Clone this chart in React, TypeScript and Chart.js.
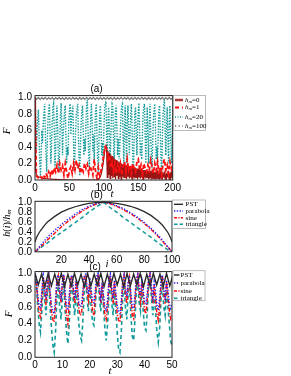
import React, { useEffect, useRef } from "react";
import { Chart, registerables } from "chart.js";
Chart.register(...registerables);

const SERIF = '"Liberation Serif", "Times New Roman", serif';
const SANS = '"Liberation Sans", Arial, sans-serif';

// ---------------- Panel (a): F vs t ----------------
const A_X_TICKS = { min: 0, max: 200, step: 50 };
// h_m = 0 : head (explicit times) + dense tail (t = 104..200, step 1)
const A_H0_HEAD_T = [0, 0.5, 1, 2, 3, 5, 8, 12, 18, 25, 35, 50, 70, 88, 92, 95, 97, 99, 101, 102, 103];
const A_H0_HEAD_F = [1.0, 0.4, 0.12, 0.07, 0.05, 0.04, 0.03, 0.02, 0.015, 0.01, 0.005, 0, 0, 0, 0.01, 0.04, 0.1, 0.2, 0.33, 0.4, 0.43];
const A_H0_TAIL_START = 104;
const A_H0_TAIL_F = [
  0.38, 0.03, 0.35, 0.06, 0.33, 0.02, 0.31, 0.05, 0.29, 0.02,
  0.27, 0.04, 0.25, 0.01, 0.24, 0.05, 0.23, 0.02, 0.22, 0.04,
  0.21, 0.01, 0.2, 0.04, 0.19, 0.02, 0.19, 0.03, 0.18, 0.01,
  0.18, 0.04, 0.17, 0.02, 0.17, 0.03, 0.16, 0.01, 0.16, 0.03,
  0.15, 0.02, 0.15, 0.03, 0.14, 0.01, 0.14, 0.03, 0.14, 0.02,
  0.13, 0.03, 0.13, 0.01, 0.12, 0.03, 0.12, 0.02, 0.12, 0.03,
  0.11, 0.01, 0.11, 0.02, 0.11, 0.03, 0.1, 0.01, 0.1, 0.02,
  0.1, 0.03, 0.09, 0.01, 0.09, 0.02, 0.09, 0.03, 0.09, 0.01,
  0.08, 0.02, 0.08, 0.03, 0.08, 0.01, 0.08, 0.02, 0.08, 0.03,
  0.08, 0.01, 0.09, 0.02, 0.1, 0.03, 0.12,
];
// h_m = 1 : t = 0..200 step 2
const A_H1_STEP = 2;
const A_H1_F = [
  1.0, 0.05, 0.03, 0.02, 0.04, 0.02, 0.06, 0.03, 0.08, 0.04,
  0.1, 0.05, 0.12, 0.06, 0.15, 0.1, 0.18, 0.08, 0.2, 0.12,
  0.17, 0.06, 0.2, 0.1, 0.02, 0.12, 0.16, 0.08, 0.2, 0.12,
  0.24, 0.14, 0.18, 0.08, 0.15, 0.1, 0.2, 0.14, 0.19, 0.08,
  0.17, 0.12, 0.06, 0.25, 0.1, 0.02, 0.15, 0.05, 0.12, 0.2,
  0.32, 0.4, 0.38, 0.25, 0.3, 0.15, 0.22, 0.1, 0.2, 0.08,
  0.18, 0.12, 0.2, 0.06, 0.16, 0.22, 0.1, 0.25, 0.12, 0.18,
  0.08, 0.2, 0.14, 0.1, 0.22, 0.25, 0.12, 0.18, 0.06, 0.2,
  0.14, 0.1, 0.18, 0.12, 0.24, 0.16, 0.08, 0.2, 0.12, 0.22,
  0.1, 0.16, 0.06, 0.2, 0.25, 0.12, 0.18, 0.08, 0.22, 0.14,
  0.2,
];
// h_m = 20 : t = 0..200 step 1
const A_H20_STEP = 1;
const A_H20_F = [
  1.0, 0.7, 0.35, 0.55, 0.75, 0.85, 0.5, 0.2, 0.05, 0.3,
  0.6, 0.45, 0.7, 0.8, 0.92, 0.6, 0.3, 0.1, 0.5, 0.75,
  0.85, 0.92, 0.55, 0.2, 0.4, 0.7, 0.88, 0.92, 0.6, 0.15,
  0.35, 0.75, 0.9, 0.6, 0.25, 0.1, 0.45, 0.8, 0.93, 0.65,
  0.3, 0.55, 0.7, 0.85, 0.9, 0.5, 0.2, 0.4, 0.3, 0.7,
  0.85, 0.92, 0.55, 0.75, 0.85, 0.9, 0.45, 0.1, 0.3, 0.6,
  0.8, 0.85, 0.92, 0.55, 0.25, 0.05, 0.4, 0.7, 0.82, 0.9,
  0.6, 0.3, 0.5, 0.35, 0.7, 0.9, 0.97, 0.6, 0.3, 0.15,
  0.45, 0.8, 0.92, 0.7, 0.35, 0.55, 0.2, 0.6, 0.85, 0.92,
  0.55, 0.25, 0.1, 0.5, 0.8, 0.9, 0.6, 0.3, 0.45, 0.2,
  0.6, 0.85, 0.92, 0.95, 0.55, 0.2, 0.7, 0.88, 0.6, 0.25,
  0.45, 0.8, 0.92, 0.9, 0.5, 0.15, 0.6, 0.85, 0.9, 0.6,
  0.3, 0.5, 0.25, 0.35, 0.6, 0.8, 0.9, 0.92, 0.5, 0.2,
  0.65, 0.9, 0.55, 0.2, 0.7, 0.9, 0.6, 0.3, 0.55, 0.8,
  0.92, 0.6, 0.25, 0.1, 0.5, 0.8, 0.88, 0.55, 0.3, 0.6,
  0.85, 0.93, 0.6, 0.3, 0.45, 0.25, 0.55, 0.8, 0.88, 0.92,
  0.55, 0.2, 0.6, 0.88, 0.5, 0.2, 0.7, 0.92, 0.6, 0.3,
  0.15, 0.45, 0.75, 0.85, 0.92, 0.6, 0.25, 0.4, 0.2, 0.6,
  0.85, 0.9, 0.55, 0.25, 0.1, 0.5, 0.8, 0.9, 0.97, 0.6,
  0.3, 0.6, 0.88, 0.5, 0.2, 0.7, 0.9, 0.55, 0.2, 0.4,
  0.85,
];
// h_m = 100 : t = 0..200 step 2.5
const A_H100_STEP = 2.5;
const A_H100_F = [
  1.0, 0.975, 0.998, 0.972, 0.997, 0.976, 0.999, 0.973, 0.996, 0.975,
  0.998, 0.971, 0.997, 0.976, 0.999, 0.974, 0.996, 0.972, 0.998, 0.975,
  0.997, 0.973, 0.999, 0.976, 0.996, 0.972, 0.998, 0.974, 0.997, 0.975,
  0.999, 0.973, 0.996, 0.976, 0.998, 0.972, 0.997, 0.974, 0.999, 0.975,
  0.996, 0.973, 0.998, 0.976, 0.997, 0.972, 0.999, 0.974, 0.996, 0.975,
  0.998, 0.973, 0.997, 0.976, 0.999, 0.972, 0.996, 0.974, 0.998, 0.975,
  0.997, 0.973, 0.999, 0.976, 0.996, 0.972, 0.998, 0.974, 0.997, 0.975,
  0.999, 0.973, 0.996, 0.976, 0.998, 0.972, 0.997, 0.974, 0.999, 0.975,
  0.996,
];

// ---------------- Panel (b): h(i)/h_m vs i ----------------
const B_I = [1, 2, 3, 5, 8, 10, 15, 20, 25, 30, 35, 40, 45, 50, 51, 55, 60, 65, 70, 75, 80, 85, 90, 93, 95, 97, 98, 99, 100];
const B_PST = [0.2, 0.28, 0.34, 0.43, 0.54, 0.6, 0.71, 0.8, 0.86, 0.91, 0.95, 0.98, 0.995, 1.0, 1.0, 0.995, 0.98, 0.955, 0.92, 0.87, 0.81, 0.73, 0.62, 0.54, 0.47, 0.39, 0.34, 0.28, 0.2];
const B_PARABOLA = [0, 0.03, 0.06, 0.13, 0.23, 0.29, 0.43, 0.55, 0.66, 0.76, 0.85, 0.92, 0.97, 1.0, 1.0, 0.98, 0.93, 0.87, 0.79, 0.7, 0.59, 0.47, 0.33, 0.24, 0.17, 0.1, 0.07, 0.035, 0];
const B_SINE = [0, 0.025, 0.05, 0.1, 0.18, 0.24, 0.37, 0.5, 0.62, 0.72, 0.82, 0.9, 0.96, 1.0, 1.0, 0.975, 0.92, 0.85, 0.77, 0.68, 0.57, 0.45, 0.31, 0.22, 0.15, 0.09, 0.06, 0.03, 0];
const B_TRIANGLE = [0, 0.02, 0.04, 0.08, 0.14, 0.18, 0.29, 0.39, 0.49, 0.59, 0.69, 0.8, 0.9, 0.99, 0.99, 0.9, 0.8, 0.69, 0.59, 0.49, 0.39, 0.29, 0.18, 0.12, 0.08, 0.04, 0.02, 0.01, 0];

// ---------------- Panel (c): F vs t ----------------
const C_PST_STEP = 1.2;
const C_PST = [
  1.0, 0.86, 0.99, 0.84, 1.0, 0.85, 0.99, 0.86, 1.0, 0.84,
  0.99, 0.85, 1.0, 0.86, 0.99, 0.84, 1.0, 0.85, 0.99, 0.86,
  1.0, 0.84, 0.99, 0.85, 1.0, 0.86, 0.99, 0.84, 1.0, 0.85,
  0.99, 0.86, 1.0, 0.84, 0.99, 0.85, 1.0, 0.86, 0.99, 0.84,
  1.0, 0.85, 0.99,
];
const C_STEP = 0.5;
const C_PARABOLA = [
  1.0, 0.9, 0.75, 0.62, 0.58, 0.8, 0.98, 0.85, 0.7, 0.9,
  0.99, 0.8, 0.62, 0.55, 0.52, 0.7, 0.95, 0.98, 0.8, 0.72,
  0.9, 0.99, 0.78, 0.6, 0.56, 0.75, 0.95, 0.98, 0.82, 0.7,
  0.92, 0.85, 0.65, 0.6, 0.62, 0.8, 0.97, 0.99, 0.85, 0.75,
  0.95, 0.82, 0.68, 0.65, 0.8, 0.96, 1.0, 0.85, 0.72, 0.9,
  0.75, 0.6, 0.55, 0.7, 0.92, 0.99, 0.83, 0.7, 0.92, 0.78,
  0.62, 0.54, 0.52, 0.68, 0.9, 0.98, 0.82, 0.72, 0.9, 0.97,
  0.76, 0.6, 0.58, 0.75, 0.95, 0.99, 0.84, 0.73, 0.92, 0.8,
  0.66, 0.64, 0.78, 0.95, 1.0, 0.86, 0.72, 0.9, 0.78, 0.62,
  0.56, 0.7, 0.92, 0.98, 0.82, 0.72, 0.92, 0.8, 0.65, 0.58,
  0.62,
];
const C_SINE = [
  1.0, 0.88, 0.7, 0.52, 0.48, 0.72, 0.95, 0.82, 0.62, 0.85,
  0.97, 0.75, 0.55, 0.45, 0.42, 0.62, 0.9, 0.97, 0.78, 0.65,
  0.88, 0.98, 0.72, 0.5, 0.4, 0.65, 0.92, 0.97, 0.78, 0.64,
  0.9, 0.8, 0.58, 0.5, 0.52, 0.75, 0.95, 0.98, 0.8, 0.68,
  0.9, 0.75, 0.55, 0.5, 0.72, 0.93, 0.99, 0.8, 0.65, 0.88,
  0.7, 0.5, 0.45, 0.62, 0.88, 0.98, 0.78, 0.64, 0.9, 0.72,
  0.52, 0.44, 0.42, 0.6, 0.88, 0.97, 0.76, 0.64, 0.87, 0.95,
  0.7, 0.5, 0.46, 0.66, 0.92, 0.98, 0.78, 0.66, 0.9, 0.74,
  0.56, 0.52, 0.7, 0.92, 0.99, 0.8, 0.64, 0.86, 0.7, 0.52,
  0.44, 0.6, 0.88, 0.97, 0.76, 0.64, 0.9, 0.74, 0.56, 0.46,
  0.5,
];
const C_TRIANGLE = [
  1.0, 0.85, 0.6, 0.4, 0.3, 0.55, 0.85, 0.7, 0.5, 0.75,
  0.9, 0.6, 0.35, 0.15, 0.06, 0.3, 0.7, 0.85, 0.6, 0.45,
  0.7, 0.9, 0.55, 0.3, 0.16, 0.4, 0.75, 0.9, 0.65, 0.5,
  0.8, 0.6, 0.4, 0.25, 0.2, 0.45, 0.8, 0.9, 0.7, 0.55,
  0.85, 0.6, 0.42, 0.38, 0.6, 0.85, 0.95, 0.7, 0.55, 0.8,
  0.6, 0.35, 0.2, 0.4, 0.75, 0.9, 0.65, 0.5, 0.8, 0.55,
  0.3, 0.1, 0.06, 0.3, 0.7, 0.88, 0.6, 0.45, 0.75, 0.85,
  0.5, 0.25, 0.2, 0.45, 0.8, 0.9, 0.65, 0.55, 0.8, 0.55,
  0.35, 0.32, 0.55, 0.85, 0.95, 0.7, 0.5, 0.75, 0.55, 0.3,
  0.18, 0.35, 0.7, 0.88, 0.6, 0.5, 0.8, 0.6, 0.4, 0.2,
  0.12,
];

// ---------------- helpers ----------------
type Seg = { t: string; font: string; dy?: number };
type TextSpec = { x: number; y: number; segs: Seg[]; rot?: boolean };
type LegendItem = { segs: Seg[]; color: string; dash: number[]; width: number };
type LegendSpec = { x: number; y: number; w: number; h: number; sx0: number; sx1: number; tx: number; ys: number[]; items: LegendItem[] };
type PanelSpec = {
  area: { top: number; bottom: number; left: number; right: number };
  xMin: number; xMax: number; xStep: number;
  datasets: any[];
  texts: TextSpec[];
  legend: LegendSpec;
};

const pairs = (xs: number[], ys: number[]) => ys.map((y, i) => ({ x: xs[i], y }));
const stepped = (start: number, step: number, ys: number[]) => ys.map((y, i) => ({ x: start + i * step, y }));

function segsWidth(ctx: CanvasRenderingContext2D, segs: Seg[]) {
  let w = 0;
  for (const s of segs) { ctx.font = s.font; w += ctx.measureText(s.t).width; }
  return w;
}
function drawSegs(ctx: CanvasRenderingContext2D, segs: Seg[], x: number, y: number) {
  let cx = x;
  for (const s of segs) {
    ctx.font = s.font;
    ctx.fillText(s.t, cx, y + (s.dy || 0));
    cx += ctx.measureText(s.t).width;
  }
}

function decorPlugin(spec: PanelSpec) {
  return {
    id: "decor",
    afterDraw(chart: any) {
      const ctx: CanvasRenderingContext2D = chart.ctx;
      const a = chart.chartArea;
      ctx.save();
      // frame
      ctx.setLineDash([]);
      ctx.strokeStyle = "#222";
      ctx.lineWidth = 1;
      ctx.strokeRect(a.left, a.top, a.right - a.left, a.bottom - a.top);
      // texts
      ctx.fillStyle = "#000";
      ctx.textBaseline = "middle";
      ctx.textAlign = "left";
      for (const t of spec.texts) {
        const w = segsWidth(ctx, t.segs);
        if (t.rot) {
          ctx.save();
          ctx.translate(t.x, t.y);
          ctx.rotate(-Math.PI / 2);
          drawSegs(ctx, t.segs, -w / 2, 0);
          ctx.restore();
        } else {
          drawSegs(ctx, t.segs, t.x - w / 2, t.y);
        }
      }
      // legend
      const L = spec.legend;
      ctx.strokeStyle = "#aaa";
      ctx.lineWidth = 0.8;
      ctx.strokeRect(L.x, L.y, L.w, L.h);
      L.items.forEach((it, k) => {
        const y = L.ys[k];
        ctx.beginPath();
        ctx.setLineDash(it.dash);
        ctx.strokeStyle = it.color;
        ctx.lineWidth = it.width;
        ctx.moveTo(L.sx0, y);
        ctx.lineTo(L.sx1, y);
        ctx.stroke();
        ctx.setLineDash([]);
        ctx.fillStyle = "#000";
        drawSegs(ctx, it.segs, L.tx, y);
      });
      ctx.restore();
    },
  };
}

const W = 291;
const H = 376;
const X_AXIS_H = 16;

function buildChart(canvas: HTMLCanvasElement, spec: PanelSpec) {
  return new Chart(canvas, {
    type: "line",
    data: { datasets: spec.datasets },
    options: {
      animation: false,
      responsive: false,
      maintainAspectRatio: false,
      events: [],
      layout: {
        padding: {
          top: spec.area.top,
          right: W - spec.area.right,
          bottom: H - spec.area.bottom - X_AXIS_H,
          left: 0,
        },
      },
      plugins: { legend: { display: false }, tooltip: { enabled: false } },
      elements: { point: { radius: 0 }, line: { tension: 0 } },
      scales: {
        x: {
          type: "linear",
          min: spec.xMin,
          max: spec.xMax,
          ticks: { stepSize: spec.xStep, includeBounds: false, padding: 2, color: "#000", font: { size: 10, family: SANS }, maxRotation: 0, autoSkip: false },
          grid: { display: false, drawTicks: false },
          border: { display: false },
          afterFit: (s: any) => { s.height = X_AXIS_H; },
        },
        y: {
          type: "linear",
          min: 0,
          max: 1.02,
          ticks: { stepSize: 0.2, includeBounds: false, autoSkip: false, padding: 3, color: "#000", font: { size: 10, family: SANS }, callback: (v: any) => Number(v).toFixed(1) },
          grid: { display: false, drawTicks: false },
          border: { display: false },
          afterFit: (s: any) => { s.width = spec.area.left; },
        },
      },
    } as any,
    plugins: [decorPlugin(spec)],
  });
}

const hSegs = (n: string): Seg[] => [
  { t: "h", font: `italic 7px ${SERIF}` },
  { t: "m", font: `italic 5px ${SERIF}`, dy: 1.5 },
  { t: "=" + n, font: `7px ${SERIF}` },
];
const txt = (s: string): Seg[] => [{ t: s, font: `7px ${SERIF}` }];
const ital = (s: string): Seg[] => [{ t: s, font: `italic 11px ${SERIF}` }];
const tag = (s: string): Seg[] => [{ t: s, font: `10px ${SANS}` }];

const C_DARKRED = "#9a1414";
const C_RED = "#ff1010";
const C_TEAL = "#139a9a";
const C_GRAY = "#6e6e6e";
const C_BLACK = "#2a2a2a";
const C_BLUE = "#2020ff";

function specA(): PanelSpec {
  return {
    area: { top: 95.6, bottom: 180, left: 35, right: 172.7 },
    xMin: A_X_TICKS.min, xMax: A_X_TICKS.max, xStep: A_X_TICKS.step,
    datasets: [
      { data: stepped(0, A_H100_STEP, A_H100_F), borderColor: C_GRAY, borderWidth: 1.1, order: 0 },
      { data: stepped(0, A_H1_STEP, A_H1_F), borderColor: C_RED, borderWidth: 1.8, borderDash: [4, 2.5], order: 1 },
      { data: [...pairs(A_H0_HEAD_T, A_H0_HEAD_F), ...stepped(A_H0_TAIL_START, 1, A_H0_TAIL_F)], borderColor: C_DARKRED, borderWidth: 1.2, order: 2 },
      { data: stepped(0, A_H20_STEP, A_H20_F), borderColor: C_TEAL, borderWidth: 1.4, borderDash: [1.4, 1.4], order: 3 },
    ],
    texts: [
      { x: 96.5, y: 89.5, segs: tag("(a)") },
      { x: 7, y: 131, segs: ital("F"), rot: true },
      { x: 112, y: 194, segs: ital("t") },
    ],
    legend: {
      x: 173.5, y: 95.5, w: 32, h: 35, sx0: 175, sx1: 183, tx: 185,
      ys: [100, 107.5, 117, 126],
      items: [
        { segs: hSegs("0"), color: "#a83a3a", dash: [], width: 2.5 },
        { segs: hSegs("1"), color: C_RED, dash: [4, 3], width: 2 },
        { segs: hSegs("20"), color: C_TEAL, dash: [1, 1.5], width: 1.4 },
        { segs: hSegs("100"), color: C_GRAY, dash: [1.2, 2.5], width: 1.4 },
      ],
    },
  };
}

function specB(): PanelSpec {
  return {
    area: { top: 201.3, bottom: 251.8, left: 35, right: 172 },
    xMin: 1, xMax: 100, xStep: 20,
    datasets: [
      { data: pairs(B_I, B_PST), borderColor: C_BLACK, borderWidth: 1.3, order: 0 },
      { data: pairs(B_I, B_PARABOLA), borderColor: C_BLUE, borderWidth: 1.4, borderDash: [1.3, 1.7], order: 1 },
      { data: pairs(B_I, B_SINE), borderColor: C_RED, borderWidth: 1.4, borderDash: [4, 1.5, 1.3, 1.5], order: 2 },
      { data: pairs(B_I, B_TRIANGLE), borderColor: C_TEAL, borderWidth: 1.5, borderDash: [4, 3], order: 3 },
    ],
    texts: [
      { x: 96.7, y: 195, segs: tag("(b)") },
      {
        x: 7, y: 223, rot: true,
        segs: [
          { t: "h", font: `italic 10px ${SERIF}` },
          { t: "(", font: `10px ${SERIF}` },
          { t: "i", font: `italic 10px ${SERIF}` },
          { t: ")/", font: `10px ${SERIF}` },
          { t: "h", font: `italic 10px ${SERIF}` },
          { t: "m", font: `italic 7px ${SERIF}`, dy: 2 },
        ],
      },
      { x: 107, y: 264, segs: ital("i") },
    ],
    legend: {
      x: 172.5, y: 200, w: 33, h: 28.5, sx0: 174, sx1: 183, tx: 185.5,
      ys: [204.3, 211, 217.7, 224.3],
      items: [
        { segs: txt("PST"), color: C_BLACK, dash: [], width: 1.4 },
        { segs: txt("parabola"), color: C_BLUE, dash: [1.3, 1.5], width: 1.5 },
        { segs: txt("sine"), color: C_RED, dash: [3, 1.3, 1.2, 1.3], width: 1.5 },
        { segs: txt("triangle"), color: C_TEAL, dash: [3.5, 2], width: 1.6 },
      ],
    },
  };
}

function specC(): PanelSpec {
  return {
    area: { top: 271.6, bottom: 357.3, left: 35, right: 172 },
    xMin: 0, xMax: 50, xStep: 10,
    datasets: [
      { data: stepped(0, C_PST_STEP, C_PST), borderColor: C_BLACK, borderWidth: 1.4, order: 0 },
      { data: stepped(0, C_STEP, C_PARABOLA), borderColor: C_BLUE, borderWidth: 1.4, borderDash: [1.3, 1.7], order: 1 },
      { data: stepped(0, C_STEP, C_SINE), borderColor: C_RED, borderWidth: 1.5, borderDash: [4, 1.5, 1.3, 1.5], order: 2 },
      { data: stepped(0, C_STEP, C_TRIANGLE), borderColor: C_TEAL, borderWidth: 1.6, borderDash: [4, 3], order: 3 },
    ],
    texts: [
      { x: 95, y: 267.7, segs: tag("(c)") },
      { x: 9, y: 314, segs: ital("F"), rot: true },
      { x: 110, y: 371, segs: ital("t") },
    ],
    legend: {
      x: 173, y: 270.7, w: 32, h: 30, sx0: 174, sx1: 179.5, tx: 180.5,
      ys: [275, 283, 291, 298.3],
      items: [
        { segs: txt("PST"), color: C_BLACK, dash: [], width: 1.4 },
        { segs: txt("parabola"), color: C_BLUE, dash: [1.3, 1.5], width: 1.5 },
        { segs: txt("sine"), color: C_RED, dash: [3, 1.3, 1.2, 1.3], width: 1.5 },
        { segs: txt("triangle"), color: C_TEAL, dash: [3.5, 2], width: 1.6 },
      ],
    },
  };
}

function Panel({ make }: { make: () => PanelSpec }) {
  const ref = useRef<HTMLCanvasElement | null>(null);
  useEffect(() => {
    if (!ref.current) return;
    const chart = buildChart(ref.current, make());
    return () => chart.destroy();
  }, [make]);
  return (
    <canvas
      ref={ref}
      width={W}
      height={H}
      style={{ position: "absolute", left: 0, top: 0, width: W, height: H }}
    />
  );
}

export default function App() {
  return (
    <div style={{ position: "absolute", left: 0, top: 0, width: W, height: H, background: "#fff", overflow: "hidden" }}>
      <Panel make={specA} />
      <Panel make={specB} />
      <Panel make={specC} />
    </div>
  );
}
